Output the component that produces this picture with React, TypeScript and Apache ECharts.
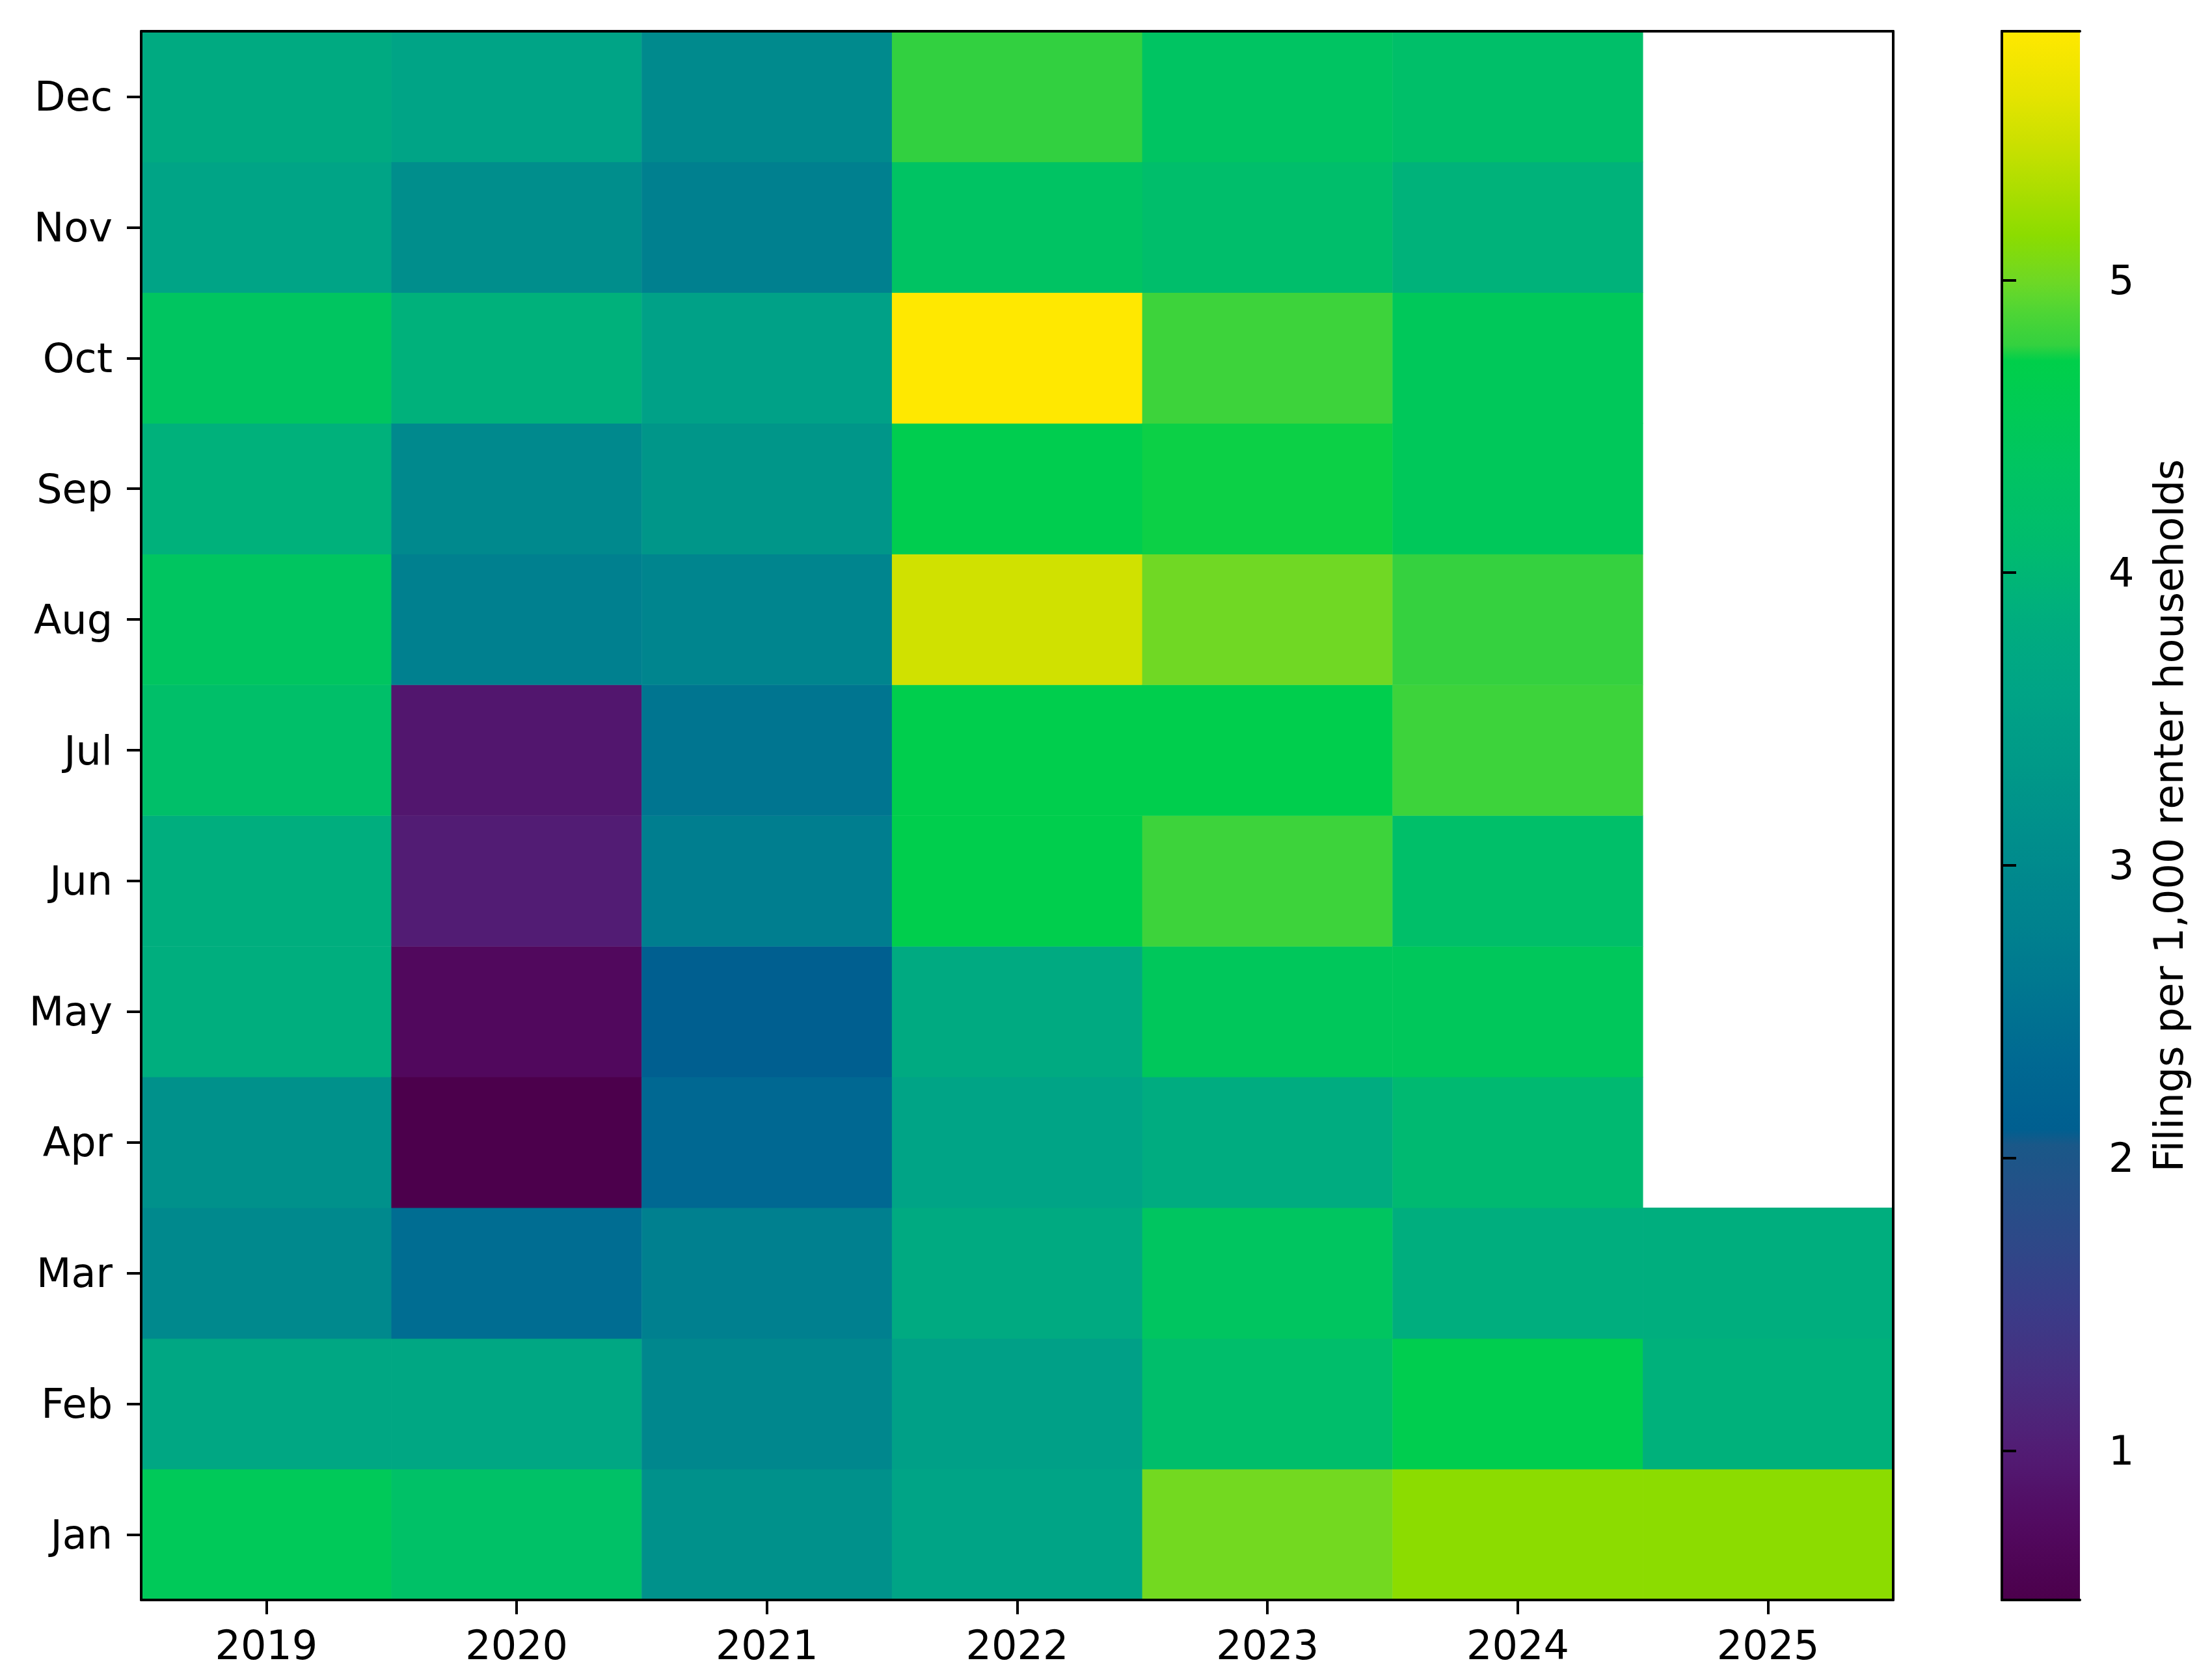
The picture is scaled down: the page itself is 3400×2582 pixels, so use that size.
import React, { useEffect, useRef } from "react";
import * as echarts from "echarts";

const years = ["2019", "2020", "2021", "2022", "2023", "2024", "2025"];
const months = ["Jan", "Feb", "Mar", "Apr", "May", "Jun", "Jul", "Aug", "Sep", "Oct", "Nov", "Dec"];

// Filings per 1,000 renter households, Jan..Dec for each year
const v2019 = [4.5, 3.68, 2.97, 3.16, 3.84, 3.84, 4.2, 4.38, 3.9, 4.38, 3.6, 3.76];
const v2020 = [4.25, 3.68, 2.4, 0.49, 0.7, 1.0, 0.92, 2.76, 2.97, 3.9, 3.1, 3.6];
const v2021 = [3.16, 2.93, 2.76, 2.32, 2.1, 2.72, 2.55, 2.88, 3.27, 3.52, 2.76, 3.0];
const v2022 = [3.6, 3.5, 3.76, 3.6, 3.76, 4.68, 4.68, 5.5, 4.65, 5.85, 4.32, 4.77];
const v2023 = [5.02, 4.15, 4.38, 3.8, 4.45, 4.82, 4.68, 5.0, 4.75, 4.82, 4.15, 4.35];
const v2024 = [5.15, 4.65, 3.84, 4.05, 4.45, 4.2, 4.82, 4.78, 4.48, 4.48, 3.92, 4.2];
const v2025 = [5.15, 3.9, 3.84, null, null, null, null, null, null, null, null, null];
const yearValues = [v2019, v2020, v2021, v2022, v2023, v2024, v2025];

const colorbarTicks = [1, 2, 3, 4, 5];
const vMin = 0.49;
const vMax = 5.85;
const colorbarTitle = "Filings per 1,000 renter households";

// colormap anchors (style)
const cmapAnchors: [number, string][] = [
  [0.49, "#4c004c"], [0.75, "#520a60"], [1.0, "#521c74"], [1.25, "#482e80"],
  [1.5, "#3a3c88"], [1.75, "#2c4a88"], [2.05, "#1a5888"], [2.08, "#005e90"],
  [2.35, "#006a92"], [2.6, "#007890"], [2.85, "#00848e"], [3.1, "#008e8c"],
  [3.35, "#009a88"], [3.6, "#00a486"], [3.85, "#00ae7e"], [4.1, "#00bc6e"],
  [4.35, "#00c462"], [4.6, "#00cc52"], [4.75, "#00d048"], [4.76, "#30d040"],
  [4.9, "#50d634"], [5.0, "#70d824"], [5.15, "#8cdc00"], [5.45, "#c8e000"],
  [5.65, "#e8e400"], [5.85, "#ffe800"],
];

function hexToRgb(h: string) {
  const n = parseInt(h.slice(1), 16);
  return [(n >> 16) & 255, (n >> 8) & 255, n & 255];
}
function colorAt(v: number) {
  if (v <= cmapAnchors[0][0]) return cmapAnchors[0][1];
  for (let i = 1; i < cmapAnchors.length; i++) {
    const [v1, c1] = cmapAnchors[i];
    const [v0, c0] = cmapAnchors[i - 1];
    if (v <= v1) {
      const t = (v - v0) / (v1 - v0);
      const a = hexToRgb(c0), b = hexToRgb(c1);
      const r = a.map((x, k) => Math.round(x + (b[k] - x) * t));
      return `rgb(${r[0]},${r[1]},${r[2]})`;
    }
  }
  return cmapAnchors[cmapAnchors.length - 1][1];
}
const NSTOPS = 500;
const cmapColors: string[] = [];
for (let i = 0; i < NSTOPS; i++) cmapColors.push(colorAt(vMin + ((vMax - vMin) * i) / (NSTOPS - 1)));

const FONT = "DejaVu Sans";
const FS = 62;

export default function App() {
  const ref = useRef<HTMLDivElement>(null);
  useEffect(() => {
    if (!ref.current) return;
    const chart = echarts.init(ref.current, null, { renderer: "svg" });
    const data: any[] = [];
    yearValues.forEach((arr, xi) => {
      arr.forEach((v, yi) => {
        if (v !== null && v !== undefined) data.push([xi, yi, v]);
      });
    });
    const G = { left: 217, top: 48, width: 2693, height: 2411 };
    const CB = { left: 3077, top: 48, width: 120, height: 2411 };
    const lineStyle = { color: "#000", width: 4 };
    const hiddenCat = (data: string[], pos: string, gridIndex: number) => ({
      type: "category", data, position: pos, gridIndex, z: 10,
      axisLine: { show: true, lineStyle }, axisTick: { show: false }, axisLabel: { show: false },
      splitLine: { show: false },
    });
    chart.setOption({
      animation: false,
      backgroundColor: "#fff",
      grid: [
        { ...G, show: false, containLabel: false },
        { ...CB, show: false, containLabel: false },
      ],
      xAxis: [
        {
          type: "category", data: years, gridIndex: 0, position: "bottom", z: 10,
          axisLine: { show: true, lineStyle },
          axisTick: { show: true, alignWithLabel: true, length: 22, lineStyle },
          axisLabel: { fontFamily: FONT, fontSize: FS, color: "#000", margin: 38 },
          splitLine: { show: false },
        },
        hiddenCat(years, "top", 0),
        {
          type: "value", gridIndex: 1, min: 0, max: 1, position: "bottom", z: 10,
          axisLine: { show: true, lineStyle }, axisTick: { show: false }, axisLabel: { show: false }, splitLine: { show: false },
        },
        {
          type: "value", gridIndex: 1, min: 0, max: 1, position: "top", z: 10,
          axisLine: { show: true, lineStyle }, axisTick: { show: false }, axisLabel: { show: false }, splitLine: { show: false },
        },
      ],
      yAxis: [
        {
          type: "category", data: months, gridIndex: 0, position: "left", z: 10,
          axisLine: { show: true, lineStyle },
          axisTick: { show: true, alignWithLabel: true, length: 22, lineStyle },
          axisLabel: { fontFamily: FONT, fontSize: FS, color: "#000", margin: 44 },
          splitLine: { show: false },
        },
        hiddenCat(months, "right", 0),
        {
          type: "value", gridIndex: 1, min: vMin, max: vMax, position: "left", z: 10,
          axisLine: { show: true, lineStyle }, axisTick: { show: false }, axisLabel: { show: false }, splitLine: { show: false },
        },
        {
          type: "value", gridIndex: 1, min: vMin, max: vMax, position: "right", z: 10,
          axisLine: { show: true, lineStyle },
          axisTick: { show: true, length: 22, lineStyle, customValues: colorbarTicks },
          axisLabel: { fontFamily: FONT, fontSize: FS, color: "#000", margin: 44, customValues: colorbarTicks },
          splitLine: { show: false },
        },
      ],
      visualMap: {
        type: "continuous",
        min: vMin,
        max: vMax,
        calculable: false,
        realtime: false,
        orient: "vertical",
        left: CB.left,
        top: CB.top,
        padding: 0,
        itemWidth: CB.width,
        itemHeight: CB.height,
        text: null,
        showLabel: false,
        seriesIndex: 0,
        inRange: { color: cmapColors },
      },
      graphic: [
        {
          type: "text",
          x: 3333,
          y: CB.top + CB.height / 2,
          rotation: Math.PI / 2,
          style: {
            text: colorbarTitle,
            fontFamily: FONT,
            fontSize: FS,
            fill: "#000",
            align: "center",
            verticalAlign: "middle",
          },
        },
      ],
      series: [
        {
          type: "heatmap",
          xAxisIndex: 0,
          yAxisIndex: 0,
          data,
          itemStyle: { borderWidth: 0 },
          emphasis: { disabled: true },
        },
      ],
    });
    return () => chart.dispose();
  }, []);
  return (
    <div
      ref={ref}
      style={{ position: "fixed", left: 0, top: 0, width: 3400, height: 2582, background: "#fff" }}
    />
  );
}
